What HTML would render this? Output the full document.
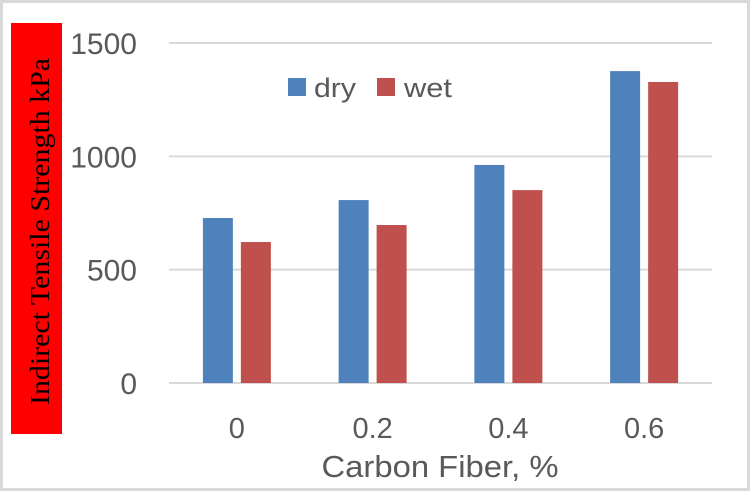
<!DOCTYPE html>
<html><head><meta charset="utf-8"><style>
html,body{margin:0;padding:0;background:#fff;}
svg{display:block;font-family:"Liberation Sans",sans-serif;}
</style></head><body>
<svg id="chart" width="752" height="494" viewBox="0 0 752 494">
<rect x="1.5" y="1.5" width="747" height="488" fill="#fff" stroke="#d9d9d9" stroke-width="3"/>
<rect x="11" y="23" width="51" height="411" fill="#ff0000"/>
<text transform="translate(49,231.5) rotate(-90)" text-anchor="middle" font-family="Liberation Serif,serif" font-size="27" fill="#000" textLength="347" lengthAdjust="spacingAndGlyphs">Indirect Tensile Strength kPa</text>
<g id="grid"></g>
<g id="bars"></g>
<g id="labels"></g>
<g>
<rect x="288" y="78" width="18" height="18" fill="#4f81bd"/>
<text x="314" y="97" font-size="27" fill="#595959" textLength="42" lengthAdjust="spacingAndGlyphs">dry</text>
<rect x="377" y="78" width="18" height="18" fill="#c0504d"/>
<text x="404" y="97" font-size="27" fill="#595959" textLength="48" lengthAdjust="spacingAndGlyphs">wet</text>
</g>
<text x="440" y="477" text-anchor="middle" font-size="31" fill="#595959" textLength="237" lengthAdjust="spacingAndGlyphs">Carbon Fiber, %</text>
</svg>
<script>
const categories = ["0","0.2","0.4","0.6"];
const dryValues = [728, 807, 962, 1376];
const wetValues = [622, 697, 851, 1328];
const yTicks = [0, 500, 1000, 1500];
const yTickLabels = ["0","500","1000","1500"];

const NS="http://www.w3.org/2000/svg";
const plotL=169, plotR=712, y0=383, y1500=43;
function yScale(v){return y0-(v/1500)*(y0-y1500);}
const band=(plotR-plotL)/categories.length;
function xCenter(i){return plotL+band*(i+0.5);}
function mk(tag,attrs,parent){const e=document.createElementNS(NS,tag);for(const k in attrs)e.setAttribute(k,attrs[k]);parent.appendChild(e);return e;}
const grid=document.getElementById('grid'), bars=document.getElementById('bars'), labels=document.getElementById('labels');
yTicks.forEach((t,i)=>{
  const l=mk('line',{x1:plotL,x2:plotR,y1:yScale(t),y2:yScale(t),stroke:'#d9d9d9','stroke-width':2},grid);
  
  
  const tx=mk('text',{x:137,y:yScale(t)+11,'text-anchor':'end','font-size':30,fill:'#595959'},labels);
  tx.textContent=yTickLabels[i];
  
  
});
const bw=30, gap=8;
categories.forEach((c,i)=>{
  const cx=xCenter(i);
  const b1=mk('rect',{x:cx-gap/2-bw,y:yScale(dryValues[i]),width:bw,height:y0-yScale(dryValues[i]),fill:'#4f81bd'},bars);
  
  
  const b2=mk('rect',{x:cx+gap/2,y:yScale(wetValues[i]),width:bw,height:y0-yScale(wetValues[i]),fill:'#c0504d'},bars);
  
  
  const tx=mk('text',{x:cx,y:438,'text-anchor':'middle','font-size':29,fill:'#595959'},labels);
  tx.textContent=c;
  
  
});
</script>
</body></html>
